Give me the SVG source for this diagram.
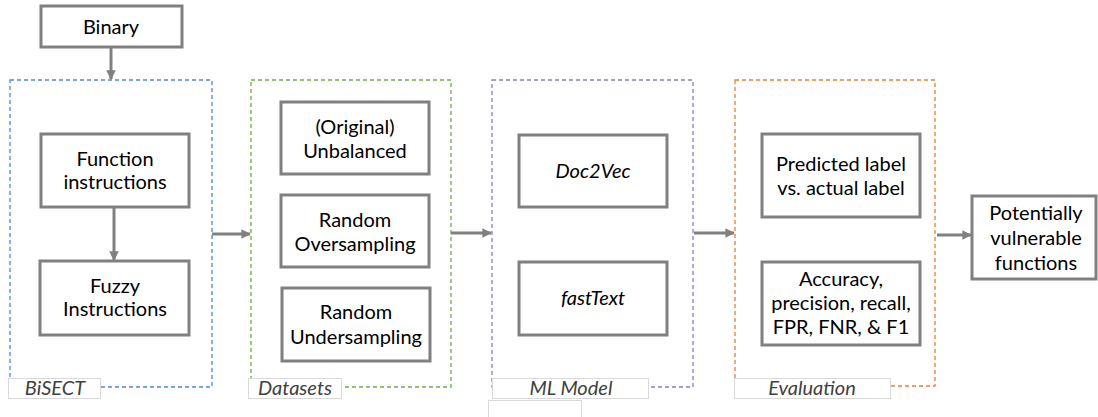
<svg xmlns="http://www.w3.org/2000/svg" width="1098" height="417" viewBox="0 0 1098 417">
<style>
.box{fill:#fff;stroke:#808080;stroke-width:3}
.t{font-family:Lato,"Liberation Sans",sans-serif;font-size:20px;fill:#000;text-anchor:middle}
.i{font-style:italic}
.grp{fill:none;stroke-width:1.3;stroke-dasharray:4 3}
.lbl{fill:#fff;stroke:#d9d9d9;stroke-width:1}
.lt{font-family:Lato,"Liberation Sans",sans-serif;font-size:20px;font-style:italic;fill:#404040;text-anchor:middle}
.c{stroke:#808080;stroke-width:3;fill:none}
</style>
<defs>
<marker id="ah" viewBox="0 0 10 10" refX="9" refY="5" markerWidth="3.2" markerHeight="3.2" orient="auto" markerUnits="strokeWidth">
<path d="M0,0 L10,5 L0,10 z" fill="#808080"/>
</marker>
</defs>
<g id="group-bisect">
<rect class="grp" x="10" y="80" width="202" height="307" stroke="#4a86e8"/>
<rect class="lbl" x="8.5" y="378.5" width="92" height="20"/>
<text class="lt" x="55" y="395">BiSECT</text>
</g>
<g id="group-datasets">
<rect class="grp" x="251" y="80" width="200" height="307" stroke="#70ad47"/>
<rect class="lbl" x="248.5" y="378.5" width="93" height="20"/>
<text class="lt" x="295" y="395">Datasets</text>
</g>
<g id="group-ml">
<rect class="grp" x="492" y="80" width="201" height="307" stroke="#8e7cc3"/>
<rect class="lbl" x="492.5" y="378.5" width="156" height="20"/>
<text class="lt" x="571" y="395">ML Model</text>
<rect class="lbl" x="488.5" y="400.5" width="93" height="20"/>
</g>
<g id="group-eval">
<rect class="grp" x="735" y="80" width="200" height="306" stroke="#ed7d31"/>
<rect class="lbl" x="734.5" y="378.5" width="156" height="20"/>
<text class="lt" x="812" y="395">Evaluation</text>
</g>
<g id="connectors">
<line class="c" x1="111" y1="48" x2="111" y2="79" marker-end="url(#ah)"/>
<line class="c" x1="114" y1="207" x2="114" y2="260" marker-end="url(#ah)"/>
<line class="c" x1="212" y1="234" x2="250" y2="234" marker-end="url(#ah)"/>
<line class="c" x1="451" y1="233" x2="491" y2="233" marker-end="url(#ah)"/>
<line class="c" x1="694" y1="233" x2="734" y2="233" marker-end="url(#ah)"/>
<line class="c" x1="937" y1="235" x2="971" y2="235" marker-end="url(#ah)"/>
</g>
<g id="binary">
<rect class="box" x="41" y="6" width="141" height="41"/>
<text class="t" x="111" y="34">Binary</text>
</g>
<g id="function-instructions">
<rect class="box" x="41" y="134" width="148" height="73"/>
<text class="t" x="115" y="166">Function</text>
<text class="t" x="115" y="189">instructions</text>
</g>
<g id="fuzzy-instructions">
<rect class="box" x="40" y="261" width="149" height="74"/>
<text class="t" x="115" y="293">Fuzzy</text>
<text class="t" x="115" y="316">Instructions</text>
</g>
<g id="unbalanced">
<rect class="box" x="281" y="102" width="148" height="72"/>
<text class="t" x="355" y="134">(Original)</text>
<text class="t" x="355" y="158">Unbalanced</text>
</g>
<g id="oversampling">
<rect class="box" x="281" y="195" width="148" height="72"/>
<text class="t" x="355" y="227">Random</text>
<text class="t" x="355" y="251">Oversampling</text>
</g>
<g id="undersampling">
<rect class="box" x="282" y="288" width="148" height="73"/>
<text class="t" x="356" y="319">Random</text>
<text class="t" x="356" y="344">Undersampling</text>
</g>
<g id="doc2vec">
<rect class="box" x="519" y="135" width="148" height="72"/>
<text class="t i" x="593" y="178">Doc2Vec</text>
</g>
<g id="fasttext">
<rect class="box" x="519" y="262" width="148" height="73"/>
<text class="t i" x="593" y="305">fastText</text>
</g>
<g id="predicted">
<rect class="box" x="762" y="134" width="158" height="83"/>
<text class="t" x="841" y="171">Predicted label</text>
<text class="t" x="841" y="195">vs. actual label</text>
</g>
<g id="metrics">
<rect class="box" x="762" y="262" width="158" height="83"/>
<text class="t" x="841" y="286">Accuracy,</text>
<text class="t" x="841" y="310">precision, recall,</text>
<text class="t" x="841" y="334">FPR, FNR, &amp; F1</text>
</g>
<g id="potentially">
<rect class="box" x="972" y="196" width="124" height="83"/>
<text class="t" x="1036" y="220">Potentially</text>
<text class="t" x="1036" y="245">vulnerable</text>
<text class="t" x="1036" y="270">functions</text>
</g>
</svg>
